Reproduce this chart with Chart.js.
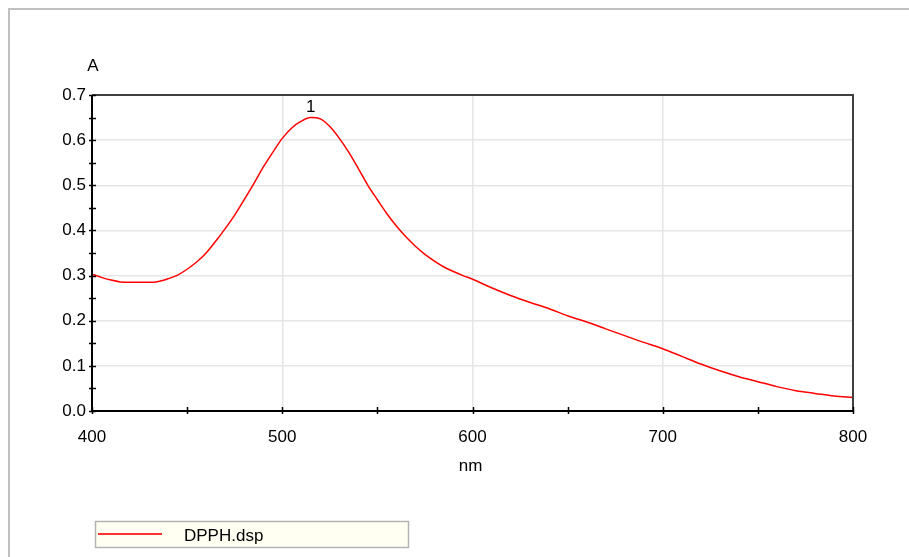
<!DOCTYPE html>
<html><head><meta charset="utf-8">
<script src="https://cdn.jsdelivr.net/npm/chart.js@4/dist/chart.umd.min.js"></script>
<style>html,body{margin:0;padding:0;background:#fff;}#wrap{width:909px;height:557px;position:relative;}</style>
</head><body><div id="wrap"><canvas id="c" width="909" height="557"></canvas></div>
<script>
const wavelengths = [400,405,410,415,420,425,430,435,440,445,450,455,460,465,470,475,480,485,490,495,500,505,510,515,520,525,530,535,540,545,550,555,560,565,570,575,580,585,590,595,600,610,620,630,640,650,660,670,680,690,700,710,720,730,740,750,760,770,780,790,800];
const absorbance = [0.303,0.296,0.290,0.286,0.285,0.285,0.285,0.287,0.293,0.301,0.314,0.330,0.350,0.376,0.404,0.434,0.468,0.503,0.540,0.573,0.604,0.627,0.642,0.650,0.647,0.630,0.604,0.573,0.537,0.500,0.468,0.437,0.410,0.386,0.365,0.347,0.332,0.319,0.309,0.300,0.292,0.273,0.256,0.241,0.227,0.211,0.197,0.182,0.167,0.152,0.138,0.121,0.104,0.089,0.076,0.065,0.054,0.045,0.039,0.033,0.030];
const seriesName = "DPPH.dsp";
const xTitle = "nm";
const yTitle = "A";
const peakLabel = "1";
const peakX = 515;
const peakY = 0.650;

const FONT = "'Liberation Sans', Arial, sans-serif";
const FS = 17;

const points = wavelengths.map((w,i)=>({x:w,y:absorbance[i]}));

const decor = {
  id:'decor',
  beforeDraw(chart){
    const c = chart.ctx;
    c.save();
    c.fillStyle='#fff'; c.fillRect(0,0,chart.width,chart.height);
    c.strokeStyle='#c0c0c0'; c.lineWidth=2;
    c.beginPath(); c.moveTo(9,557); c.lineTo(9,9); c.lineTo(909,9); c.stroke();
    c.restore();
  },
  afterDraw(chart){
    const c = chart.ctx, xs = chart.scales.x, ys = chart.scales.y, a = chart.chartArea;
    c.save();
    c.strokeStyle='#404040'; c.lineWidth=2;
    c.beginPath(); c.moveTo(a.left, a.top); c.lineTo(a.right, a.top); c.lineTo(a.right, a.bottom); c.stroke();
    c.strokeStyle='#000'; c.lineWidth=2;
    c.beginPath(); c.moveTo(a.left, a.top); c.lineTo(a.left, a.bottom); c.lineTo(a.right, a.bottom); c.stroke();
    c.lineWidth=1.5;
    ys.ticks.forEach(t=>{ const y=Math.round(ys.getPixelForValue(t.value))+0.5; c.beginPath(); c.moveTo(a.left-3,y); c.lineTo(a.left+4,y); c.stroke(); });
    xs.ticks.forEach(t=>{ const x=Math.round(xs.getPixelForValue(t.value))+0.5; c.beginPath(); c.moveTo(x,a.bottom-4); c.lineTo(x,a.bottom+3); c.stroke(); });
    c.fillStyle='#000'; c.font=FS+'px '+FONT; c.textAlign='center'; c.textBaseline='middle';
    c.fillText(yTitle, a.left+1, 66);
    c.fillText(xTitle, (a.left+a.right)/2 - 2, 466);
    c.fillText(peakLabel, xs.getPixelForValue(peakX), ys.getPixelForValue(peakY)-10);
    c.fillStyle='#fffff2'; c.fillRect(95.5,521.5,313,26);
    c.strokeStyle='#b4b4b4'; c.lineWidth=1.5; c.strokeRect(95.5,521.5,313,26);
    c.strokeStyle='#ff3030'; c.lineWidth=2;
    c.beginPath(); c.moveTo(98,534); c.lineTo(162,534); c.stroke();
    c.fillStyle='#000'; c.textAlign='left';
    c.fillText(seriesName, 184, 536);
    c.restore();
  }
};

new Chart(document.getElementById('c'), {
  type:'line',
  data:{ datasets:[{ label:seriesName, data:points, borderColor:'#ff0000', borderWidth:1.5, pointRadius:0, cubicInterpolationMode:'monotone', fill:false }]},
  options:{
    responsive:false, animation:false, devicePixelRatio:1,
    layout:{ padding:{ left:0, top:95, right:56, bottom:0 } },
    plugins:{ legend:{display:false}, tooltip:{enabled:false} },
    scales:{
      x:{ type:'linear', min:400, max:800,
        afterFit(s){ s.height = 146; },
        border:{display:false},
        grid:{ drawTicks:false, lineWidth:1.5, color:(ctx)=>{ const v=ctx.tick&&ctx.tick.value; return (v%100===0 && v>400 && v<800)?'#e6e6e6':'rgba(0,0,0,0)'; } },
        ticks:{ stepSize:50, autoSkip:false, maxRotation:0, padding:16, color:'#000', font:{family:FONT,size:FS},
          callback:(v)=> v%100===0 ? String(v) : '' }
      },
      y:{ type:'linear', min:0, max:0.7,
        afterFit(s){ s.width = 92; },
        border:{display:false},
        grid:{ drawTicks:false, lineWidth:1.5, color:(ctx)=>{ const v=ctx.tick?Math.round(ctx.tick.value*100):-1; return (v%10===0 && v>0 && v<70)?'#e6e6e6':'rgba(0,0,0,0)'; } },
        ticks:{ stepSize:0.05, autoSkip:false, padding:6, color:'#000', font:{family:FONT,size:FS},
          callback:(v)=>{ const r=Math.round(v*100); return r%10===0 ? (r/100).toFixed(1) : ''; } }
      }
    }
  },
  plugins:[decor]
});
</script></body></html>
